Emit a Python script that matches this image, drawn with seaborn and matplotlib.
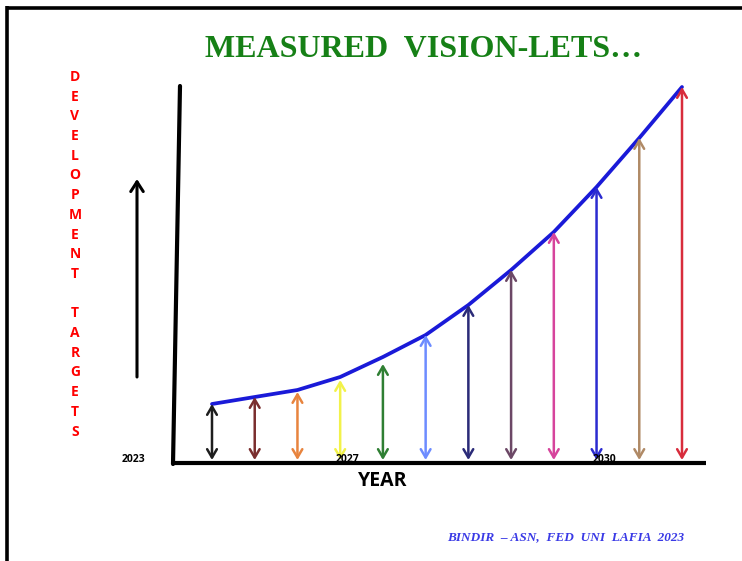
import matplotlib
matplotlib.use('Agg')
import matplotlib.pyplot as plt
import matplotlib.patches as mpatches
import seaborn as sns
import pandas as pd
from matplotlib.lines import Line2D

# ---- data ----
steps = list(range(1, 13))
curve_values = [5.9, 6.6, 7.3, 8.6, 10.6, 12.8, 15.8, 19.3, 23.1, 27.6, 32.5, 37.6]
arrow_tops = [5.9, 6.6, 7.1, 8.3, 9.9, 12.8, 15.8, 19.3, 23.1, 27.6, 32.5, 37.6]
arrow_colors = ['#1e1e1e', '#7a2e2e', '#e8843e', '#f2f24a', '#2f7f33', '#6d8cff',
                '#2b2b78', '#6c4866', '#d6449c', '#2b2bd0', '#b08a66', '#d82c3c']
year_labels = ['2023', '2027', '2030']
title_text = 'MEASURED  VISION-LETS\u2026'
ylabel_text = 'DEVELOPMENT TARGETS'
xlabel_text = 'YEAR'
credit_text = 'BINDIR  \u2013 ASN,  FED  UNI  LAFIA  2023'

df = pd.DataFrame({'step': steps, 'target': curve_values})

sns.set_style('white')
W, H = 742, 561
fig = plt.figure(figsize=(W / 100, H / 100), dpi=100)
fig.patch.set_facecolor('white')

def fx(px):
    return px / W

def fy(py):
    return 1 - py / H

ax = fig.add_axes([fx(173), fy(463), fx(706) - fx(173), fy(80) - fy(463)])
ax.set_xlim(0.0873, 12.5617)
ax.set_ylim(0, 38.3)
ax.set_facecolor('none')

# double-headed arrows
for s, t, c in zip(steps, arrow_tops, arrow_colors):
    ax.annotate('', xy=(s, t), xytext=(s, 0.3),
                arrowprops=dict(arrowstyle='<->,head_length=0.6,head_width=0.35',
                                color=c, lw=1.8, shrinkA=0, shrinkB=0,
                                mutation_scale=10))

# growth curve
sns.lineplot(data=df, x='step', y='target', ax=ax, color='#1a1ad8', lw=2.7,
             solid_capstyle='round', solid_joinstyle='round')

ax.set_xticks([])
ax.set_yticks([])
ax.set_xlabel('')
ax.set_ylabel('')
for side in ['left', 'top', 'right']:
    ax.spines[side].set_visible(False)
ax.spines['bottom'].set_linewidth(3)
ax.spines['bottom'].set_color('black')
ax.spines['bottom'].set_capstyle('butt')

# slanted vertical axis line
fig.add_artist(Line2D([fx(180), fx(173)], [fy(86), fy(464)], transform=fig.transFigure,
                      color='black', lw=3))

# frame lines
fig.add_artist(Line2D([fx(6), fx(742)], [fy(7.5), fy(7.5)], transform=fig.transFigure,
                      color='black', lw=2.6, solid_capstyle='butt'))
fig.add_artist(Line2D([fx(7.5), fx(7.5)], [fy(6), fy(561)], transform=fig.transFigure,
                      color='black', lw=2.6, solid_capstyle='butt'))

# title
fig.text(fx(424), fy(49), title_text, ha='center', va='center', color='#168016',
         fontsize=23, fontweight='bold', family='Liberation Serif')

# vertical stacked y label
y0 = 77
for i, ch in enumerate(ylabel_text):
    if ch == ' ':
        continue
    fig.text(fx(75), fy(y0 + i * 19.7), ch, ha='center', va='center', color='#ff0000',
             fontsize=10, fontweight='bold', family='Open Sans')

# upward arrow beside label
fig.add_artist(mpatches.FancyArrowPatch(
    (fx(137), fy(377)), (fx(137), fy(179)), transform=fig.transFigure,
    arrowstyle='->,head_length=0.7,head_width=0.45', mutation_scale=10,
    color='black', lw=2.2, shrinkA=0, shrinkB=0))

# year labels
year_px = [133, 348, 605]
for lbl, px in zip(year_labels, year_px):
    fig.text(fx(px), fy(459), lbl, ha='center', va='center', color='black',
             fontsize=7.5, fontweight='bold', family='Open Sans')

# x label
fig.text(fx(383), fy(481), xlabel_text, ha='center', va='center', color='black',
         fontsize=14, fontweight='bold', family='Open Sans')

# credit
fig.text(fx(566), fy(537), credit_text, ha='center', va='center', color='#3a3ae6',
         fontsize=9.5, fontweight='bold', style='italic', family='Liberation Serif')

fig.savefig('out.png', dpi=100, facecolor='white')
